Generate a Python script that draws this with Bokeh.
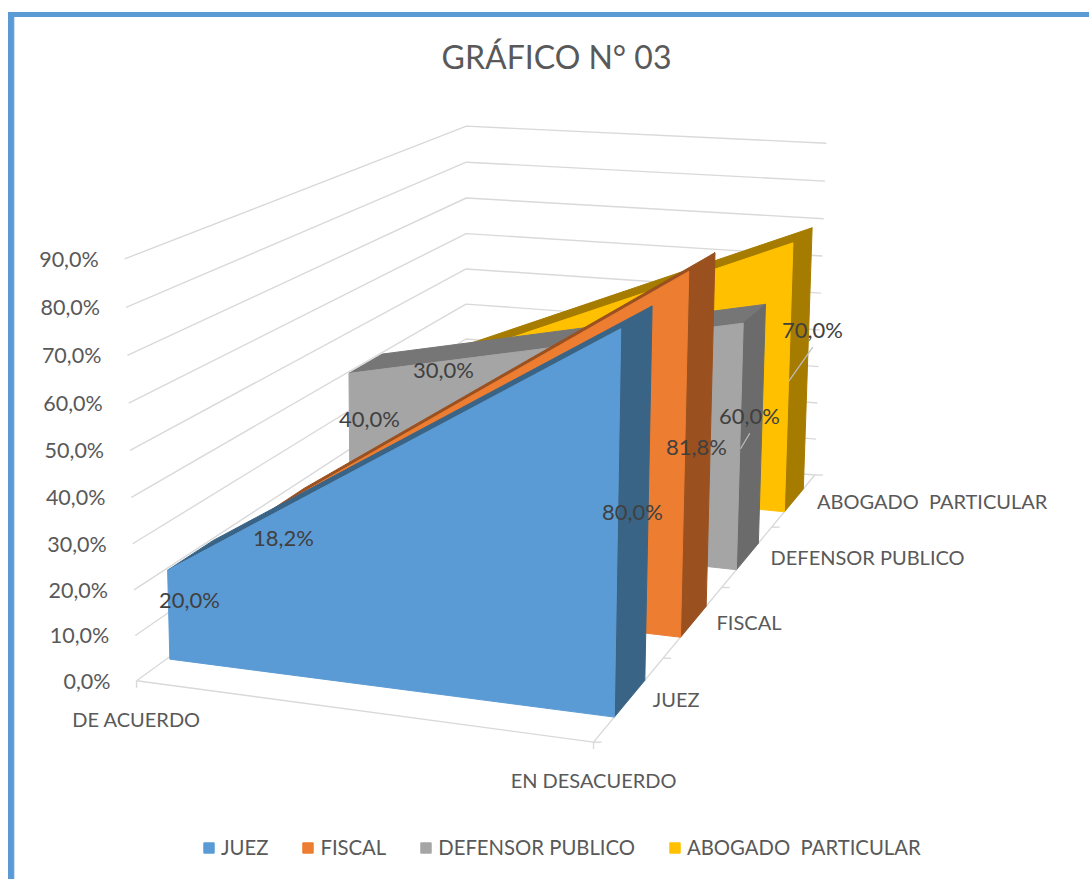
import numpy as np
from bokeh.embed import file_html
from bokeh.core.properties import value
from bokeh.models import Range1d, Legend, LegendItem
from bokeh.plotting import figure
from bokeh.resources import INLINE

# ---------- data ----------
title = "GRÁFICO N° 03"
categories = ["DE ACUERDO", "EN DESACUERDO"]
series_names = ["JUEZ", "FISCAL", "DEFENSOR PUBLICO", "ABOGADO  PARTICULAR"]
juez = [20.0, 80.0]
fiscal = [18.2, 81.8]
defensor = [40.0, 60.0]
abogado = [30.0, 70.0]
y_ticks = [0, 10, 20, 30, 40, 50, 60, 70, 80, 90]

# ---------- styles ----------
front_colors = ["#5B9BD5", "#ED7D31", "#A5A5A5", "#FFC000"]
side_colors = ["#3A6486", "#9A511F", "#6B6B6B", "#A67C00"]
top_colors = ["#3A6486", "#9A511F", "#767676", "#A67C00"]
FONT = value("Lato")
GRID = "#D9D9D9"
W, H = 1089, 879
band = 0.055
u_start = 0.007

# ---------- perspective camera: (category, depth, value) -> page pixel ----------
calib = [
    (0, 0, 0, 136.7, 679.3), (0, 0, 90, 121.7, 256.7), (1, 0, 0, 593.3, 740.7),
    (1, 1, 0, 813.0, 478.0), (1, 1, 90, 826.0, 145.0), (0, 1, 90, 466.7, 126.7),
    (0, 1, 60, 466.7, 235.3), (0, 0, 40, 130.7, 496.0), (1, 1, 40, 820.7, 295.3),
    (0, 1, 30, 466.7, 340.7), (0, 0, 20, 133.3, 588.7), (1, 1, 20, 816.7, 405.7),
    (1, .25, 0, 662.7, 657.7), (1, .5, 0, 720.7, 588.3), (1, .75, 0, 770.3, 529.0),
    (1, .07, 80, 622.0, 327.3), (1, .07, 0, 615.7, 714.0),
    (1, .18, 80, 650.3, 307.7), (1, .18, 0, 643.3, 681.7),
    (1, .32, 81.8, 690.0, 270.0), (1, .32, 0, 681.3, 635.7),
    (1, .43, 81.8, 713.3, 254.7), (1, .43, 0, 704.3, 607.3),
    (1, .57, 60, 743.3, 324.0), (1, .57, 0, 737.0, 569.0),
    (1, .68, 60, 764.0, 307.3), (1, .68, 0, 756.7, 545.0),
    (1, .82, 70, 793.3, 245.0), (1, .82, 0, 784.0, 512.7),
    (1, .93, 70, 810.7, 231.0), (1, .93, 0, 801.3, 492.0),
]
C = np.array(calib, float)
WORLD = np.c_[C[:, 0], C[:, 1], C[:, 2] / 90, np.ones(len(C))]
PIX = C[:, 3:5] / 1000
rows = []
for (X, Y, Z, _), (px, py) in zip(WORLD, PIX):
    rows.append([X, Y, Z, 1, 0, 0, 0, 0, -px * X, -px * Y, -px * Z, -px])
    rows.append([0, 0, 0, 0, X, Y, Z, 1, -py * X, -py * Y, -py * Z, -py])
cam = np.linalg.svd(np.array(rows))[2][-1]
cam = cam / cam[-1]


def residual(c):
    q = WORLD @ c.reshape(3, 4).T
    return (q[:, :2] / q[:, 2:] - PIX).ravel()


for _ in range(40):
    r0 = residual(cam)
    J = np.array([(residual(cam + 1e-6 * e) - r0) / 1e-6 for e in np.eye(12)[:11]]).T
    cam[:11] += np.linalg.solve(J.T @ J + 1e-9 * np.eye(11), -J.T @ r0)
CAM = cam.reshape(3, 4)


def project(u, v, h):
    q = CAM @ np.array([u, v, h / 90, 1.0])
    return q[0] / q[2] * 1000, q[1] / q[2] * 1000


def poly(points):
    pts = [project(*pt) for pt in points]
    return [a for a, _ in pts], [b for _, b in pts]


p = figure(width=W, height=H, x_range=Range1d(0, W), y_range=Range1d(H, 0),
           x_axis_location=None, y_axis_location=None, toolbar_location=None,
           output_backend="svg", min_border=0, outline_line_color=None)
p.grid.visible = False

# chart border
BORDER = "#5B9BD5"
p.quad(left=[8], right=[13.3], top=[12], bottom=[H], color=BORDER)
p.quad(left=[8], right=[W], top=[12], bottom=[16], color=BORDER)

# walls
for k in y_ticks:
    xs, ys = poly([(0, 0, k), (0, 1, k), (1, 1, k)])
    p.line(xs, ys, line_color=GRID, line_width=1.4)

# floor edges and ticks
xs, ys = poly([(0, 0, 0), (1, 0, 0), (1, 1, 0)])
p.line(xs, ys, line_color=GRID, line_width=1.4)
for u in (0, 1):
    x0, y0 = project(u, 0, 0)
    p.line([x0, x0], [y0, y0 + 7], line_color=GRID, line_width=1.4)
for v in (0, .25, .5, .75, 1):
    x0, y0 = project(1, v, 0)
    p.line([x0, x0 + 8], [y0, y0], line_color=GRID, line_width=1.4)

# series, back to front
all_values = [juez, fiscal, defensor, abogado]
renderers = {}
for i in (3, 2, 1, 0):
    a, b = all_values[i]
    v0 = (i + .5) / 4 - band
    v1 = (i + .5) / 4 + band
    xs, ys = poly([(u_start, v0, a), (u_start, v1, a), (1, v1, b), (1, v0, b)])
    p.patch(xs, ys, color=top_colors[i])
    xs, ys = poly([(1, v0, 0), (1, v1, 0), (1, v1, b), (1, v0, b)])
    p.patch(xs, ys, color=side_colors[i])
    xs, ys = poly([(u_start, v0, 0), (1, v0, 0), (1, v0, b), (u_start, v0, a)])
    renderers[i] = p.patch(xs, ys, color=front_colors[i])

# value-axis tick labels
tx, ty, tt = [], [], []
for k in y_ticks:
    x0, y0 = project(0, 0, k)
    tx.append(x0 - 26)
    ty.append(y0)
    tt.append(f"{k:.1f}".replace(".", ",") + "%")
p.text(tx, ty, text=tt, text_font=FONT, text_font_size="21.5px", text_color="#595959",
       text_align="right", text_baseline="middle")

# category labels
for u, name in enumerate(categories):
    x0, y0 = project(u, 0, 0)
    p.text([x0], [y0 + 38], text=[name], text_font=FONT, text_font_size="20px",
           text_color="#595959", text_align="center", text_baseline="middle")

# series labels along the depth axis
for i, name in enumerate(series_names):
    x0, y0 = project(1, (i + .5) / 4, 0)
    p.text([x0 + 23], [y0 + 1], text=[name.replace("  ", " \u00a0")], text_font=FONT, text_font_size="20px",
           text_color="#595959", text_align="left", text_baseline="middle")

# data labels
label_places = {
    (0, 0): (189, 599), (0, 1): (632, 511),
    (1, 0): (283, 537), (1, 1): (696, 446),
    (2, 0): (369, 418), (2, 1): (749, 415),
    (3, 0): (443, 369), (3, 1): (812, 329),
}
p.segment([812.3, 749.3], [346.7, 432.7], [788.3, 740.0], [380.7, 448.3],
          line_color="#BFBFBF", line_width=1.2)
for (i, j), (lx, ly) in label_places.items():
    txt = f"{all_values[i][j]:.1f}".replace(".", ",") + "%"
    p.text([lx], [ly], text=[txt], text_font=FONT, text_font_size="22px",
           text_color="#404040", text_align="center", text_baseline="middle")

# title
p.text([556], [56], text=[title], text_font=FONT, text_font_size="32px",
       text_color="#595959", text_align="center", text_baseline="middle")

# legend
legend = Legend(items=[LegendItem(label=n, renderers=[renderers[i]]) for i, n in enumerate(series_names)],
                orientation="horizontal", location=(202, 20), border_line_color=None,
                background_fill_alpha=0, glyph_width=13, glyph_height=13, label_standoff=6,
                spacing=33, padding=0, margin=0,
                label_text_font="Lato", label_text_font_size="20.3px", label_text_color="#595959")
p.add_layout(legend, "center")

open("out.html", "w").write(file_html(p, INLINE))
